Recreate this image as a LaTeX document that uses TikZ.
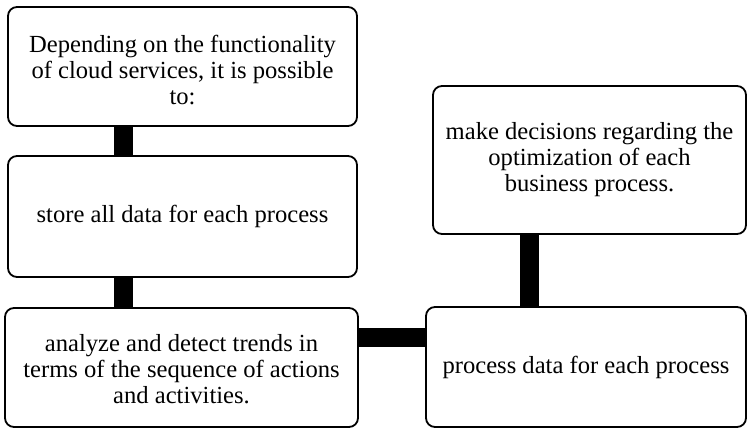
\documentclass[tikz,border=0pt]{standalone}
\usepackage{fontspec}
\setmainfont{Liberation Serif}
\begin{document}
\begin{tikzpicture}[x=1pt,y=-1pt,
  box/.style={draw=black, line width=1.8pt, rounded corners=9pt, fill=white,
    align=center, inner sep=0pt, font=\fontsize{24.6}{26}\selectfont},
  bar/.style={line width=19pt, black}]
\useasboundingbox[fill=white] (0,0) rectangle (747,428);
\node[box, minimum width=349pt, minimum height=119pt] (b1) at (182.5,66.5)
  {\rule{0pt}{25pt}Depending on the functionality\\of cloud services, it is possible\\to:};
\node[box, minimum width=349pt, minimum height=121pt] (b2) at (182.5,216.5)
  {store all data for each process};
\node[box, minimum width=353pt, minimum height=119pt] (b3) at (181.5,367.5)
  {\rule{0pt}{21pt}analyze and detect trends in\\terms of the sequence of actions\\and activities.};
\node[box, minimum width=320pt, minimum height=120pt] (b4) at (586,367)
  {process data for each process};
\node[box, minimum width=313pt, minimum height=148pt] (b5) at (589.5,160)
  {make decisions regarding the\\optimization of each\\business process.};
\draw[bar] (b1.south -| 123,0) -- (b2.north -| 123,0);
\draw[bar] (b2.south -| 123,0) -- (b3.north -| 123,0);
\draw[bar] (b3.east |- 0,337.5) -- (b4.west |- 0,337.5);
\draw[bar] (b5.south -| 529,0) -- (b4.north -| 529,0);
\end{tikzpicture}
\end{document}
